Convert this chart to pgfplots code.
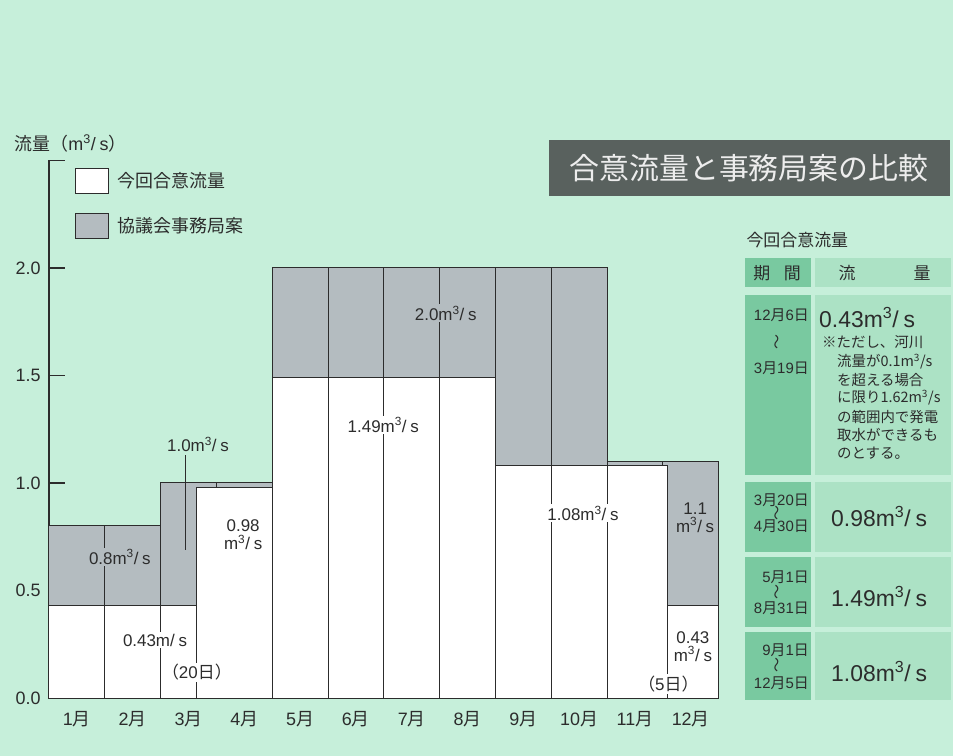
\documentclass[border=0pt]{standalone}
\usepackage{graphicx}
\usepackage{fontspec}
\usepackage{pgfplots}
\pgfplotsset{compat=1.18}
\setmainfont{Liberation Sans}
\newfontfamily\jp{Noto Sans CJK JP}

\definecolor{bg}{HTML}{C6EFDA}
\definecolor{bargray}{HTML}{B4BCC0}
\definecolor{ink}{HTML}{2C2C2C}
\definecolor{titlebox}{HTML}{59615E}
\definecolor{celldark}{HTML}{79C9A0}
\definecolor{celllight}{HTML}{ACE2C5}

\newcommand{\fs}[1]{\fontsize{#1}{#1}\selectfont}
\newcommand{\ms}{m\textsuperscript{3}/\hspace{0.22em}s}
\newcommand{\nami}{\rotatebox[origin=c]{90}{\jp 〜}}
\newcommand{\tuki}{{\jp 月}}
\newcommand{\hi}{{\jp 日}}

\begin{document}
\begin{tikzpicture}
\fill[bg] (0,0) rectangle (953bp,756bp);

\begin{axis}[
  at={(49bp,58bp)}, anchor=south west,
  scale only axis, width=669.6bp, height=537.5bp,
  xmin=0, xmax=12, ymin=0, ymax=2.5,
  axis lines*=left,
  axis line style={ink, line width=1.2bp},
  clip=false,
  xtick={0.5,1.5,...,11.5},
  xticklabels={1\tuki,2\tuki,3\tuki,4\tuki,5\tuki,6\tuki,7\tuki,8\tuki,9\tuki,10\tuki,11\tuki,12\tuki},
  ytick={0,0.5,1,1.5,2,2.5},
  yticklabels={0.0,0.5,1.0,1.5,2.0,},
  tick align=inside,
  major tick length=16bp,
  xtick style={draw=none},
  ytick style={ink, line width=1.2bp},
  ticklabel style={font=\fs{18}, text=ink},
  xticklabel style={yshift=-10bp},
  yticklabel style={xshift=-5bp},
  reverse legend,
  legend cell align=left,
  legend style={at={(axis cs:0.41,2.475)}, anchor=north west, draw=none, fill=none,
    font=\jp\fs{18}, text=ink, row sep=19bp,
    /tikz/every odd column/.append style={column sep=7bp}},
  legend image code/.code={\draw[#1, draw=ink, line width=0.8bp] (0bp,-12.5bp) rectangle (33bp,12.5bp);},
]
% 協議会事務局案
\addplot[const plot, fill=bargray, draw=ink, line width=1bp]
  coordinates {(0,0.8)(2,1.0)(4,2.0)(10,1.1)(12,1.1)} \closedcycle;
\addlegendentry{協議会事務局案}
% 今回合意流量
\addplot[const plot, fill=white, draw=ink, line width=1bp]
  coordinates {(0,0.43)(2.65,0.98)(4,1.49)(8,1.08)(11.08,0.43)(12,0.43)} \closedcycle;
\addlegendentry{今回合意流量}

% month boundary lines
\addplot[ycomb, mark=none, ink, line width=1bp, forget plot]
  coordinates {(1,0.8)(2,1.0)(2.65,0.98)(4,2.0)(5,2.0)(6,2.0)(7,2.0)(8,2.0)(9,2.0)(10,2.0)(11.08,1.08)};
\addplot[mark=none, ink, line width=1bp, forget plot] coordinates {(3,0.98)(3,1.0)};
\addplot[mark=none, ink, line width=1bp, forget plot] coordinates {(11,1.08)(11,1.1)};

% labels
\begin{scope}[every node/.style={font=\fontsize{17}{18}\selectfont, text=ink, inner sep=1.5bp}]
\node[fill=bargray] at (axis cs:1.27,0.656) {0.8\ms};
\node[fill=white] at (axis cs:1.9,0.27) {0.43m/\hspace{0.22em}s};
\node[fill=white] at (axis cs:2.65,0.12) {{\jp （}20{\jp 日）}};
\node at (axis cs:2.67,1.18) {1.0\ms};
\draw[ink, line width=1bp] (axis cs:2.44,1.13) -- (axis cs:2.44,0.69);
\node[align=center] at (axis cs:3.48,0.76) {0.98\\\ms};
\node[fill=white] at (axis cs:5.99,1.27) {1.49\ms};
\node[fill=bargray] at (axis cs:7.11,1.79) {2.0\ms};
\node[fill=white] at (axis cs:9.57,0.86) {1.08\ms};
\node[align=center] at (axis cs:11.58,0.84) {1.1\\\ms};
\node[align=center] at (axis cs:11.54,0.24) {0.43\\\ms};
\node[fill=white] at (axis cs:11.1,0.065) {{\jp （}5{\jp 日）}};
\end{scope}

\node[anchor=west, font=\fs{18}, text=ink] at (axis cs:-0.68,2.58) {{\jp 流量（}m\textsuperscript{3}/\hspace{0.22em}s{\jp ）}};
\end{axis}

\begin{scope}[x=1bp, y=-1bp, yshift=756bp]
  \fill[titlebox] (549,140) rectangle (950,196);
  \node[text=white!93!black, font=\jp\fs{30}] at (749,168) {合意流量と事務局案の比較};
  \node[anchor=west, font=\jp\fs{17}, text=ink] at (743,240) {今回合意流量};

  \fill[celldark] (745,258) rectangle (811,287);
  \fill[celllight] (815,258) rectangle (951,287);
  \fill[celldark] (745,295) rectangle (811,475);
  \fill[celllight] (815,295) rectangle (951,475);
  \fill[celldark] (745,482) rectangle (811,552);
  \fill[celllight] (815,482) rectangle (951,552);
  \fill[celldark] (745,557) rectangle (811,627);
  \fill[celllight] (815,557) rectangle (951,627);
  \fill[celldark] (745,632) rectangle (811,700);
  \fill[celllight] (815,632) rectangle (951,700);

  \begin{scope}[every node/.style={text=ink, inner sep=0pt}]
  \node[font=\jp\fs{17}] at (777,273) {期\hspace{0.8em}間};
  \node[font=\jp\fs{17}] at (847,273) {流};
  \node[font=\jp\fs{17}] at (922,273) {量};

  \begin{scope}[every node/.append style={font=\fs{15}}]
  \node[anchor=east] at (809,315) {12\tuki6\hi};
  \node at (779,342) {\nami};
  \node[anchor=east] at (809,368) {3\tuki19\hi};
  \node[anchor=east] at (809,500) {3\tuki20\hi};
  \node at (779,513) {\nami};
  \node[anchor=east] at (809,526) {4\tuki30\hi};
  \node[anchor=east] at (809,577) {5\tuki1\hi};
  \node at (779,592) {\nami};
  \node[anchor=east] at (809,608) {8\tuki31\hi};
  \node[anchor=east] at (809,650) {9\tuki1\hi};
  \node at (779,665) {\nami};
  \node[anchor=east] at (809,683) {12\tuki5\hi};
  \end{scope}

  \begin{scope}[every node/.append style={font=\fs{23}, anchor=west}]
  \node at (819,318) {0.43\ms};
  \node at (831,517) {0.98\ms};
  \node at (831,597) {1.49\ms};
  \node at (831,672) {1.08\ms};
  \end{scope}

  \begin{scope}[every node/.append style={font=\jp\fs{14.5}, anchor=west}]
  \node at (822,342) {※ただし、河川};
  \node at (837,362) {流量が0.1m\textsuperscript{3}/s};
  \node at (837,380) {を超える場合};
  \node at (837,398) {に限り1.62m\textsuperscript{3}/s};
  \node at (837,417) {の範囲内で発電};
  \node at (837,435) {取水ができるも};
  \node at (837,453) {のとする。};
  \end{scope}
  \end{scope}
\end{scope}

\pgfresetboundingbox
\useasboundingbox (0,0) rectangle (953bp,756bp);
\end{tikzpicture}
\end{document}
